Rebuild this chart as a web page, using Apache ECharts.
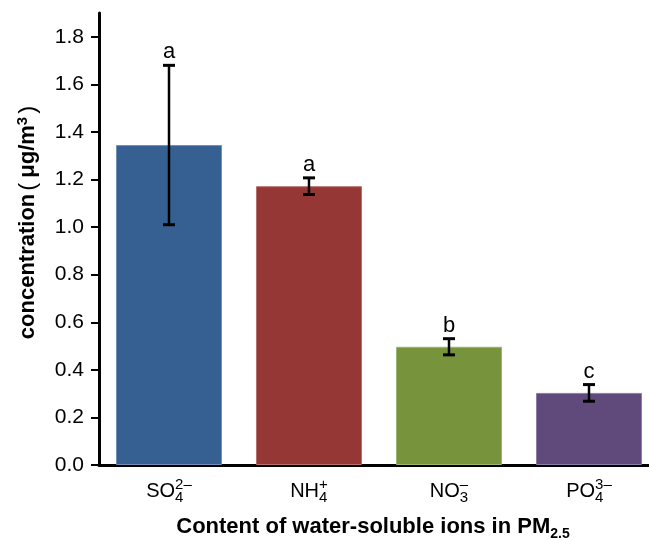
<!DOCTYPE html>
<html><head><meta charset="utf-8">
<script src="https://cdn.jsdelivr.net/npm/echarts@6/dist/echarts.min.js"></script>
<style>html,body{margin:0;padding:0;background:#fff}#c{width:649px;height:541px}</style>
</head><body><div id="c"></div>
<script>
const categories = ['SO4', 'NH4', 'NO3', 'PO4'];
const labelBase = ['SO', 'NH', 'NO', 'PO'];
const labelSub = ['4', '4', '3', '4'];
const labelSup = ['2\u2013', '+', '\u2013', '3\u2013'];
const means = [1.345, 1.172, 0.497, 0.303];
const errors = [0.335, 0.035, 0.034, 0.035];
const letters = ['a', 'a', 'b', 'c'];
const barColors = ['#376092', '#953735', '#77933C', '#604A7B'];
const barBorders = ['#6f8fb8', '#b86e6c', '#9cb46f', '#8e7ca6'];
const yTicks = [0, 0.2, 0.4, 0.6, 0.8, 1.0, 1.2, 1.4, 1.6, 1.8];

const FONT = '"Liberation Sans", "Noto Sans CJK SC", sans-serif';
const chart = echarts.init(document.getElementById('c'));
chart.setOption({
  animation: false,
  backgroundColor: '#fff',
  grid: { left: 99, right: -10, top: 13, bottom: 76, containLabel: false, outerBoundsMode: 'none' },
  xAxis: {
    type: 'category',
    data: categories,
    axisLine: { lineStyle: { color: '#000', width: 3 } },
    axisTick: { show: false },
    axisLabel: {
      margin: 12,
      interval: 0,
      formatter: (v, i) => '{m|' + labelBase[i] + '}{sub|' + labelSub[i] + '}{sup|' + labelSup[i] + '}',
      rich: {
        m: { fontSize: 20, lineHeight: 28, fontFamily: FONT, color: '#000', align: 'left' },
        sub: { fontSize: 15, lineHeight: 17, verticalAlign: 'bottom', width: 0, fontFamily: FONT, color: '#000', align: 'left' },
        sup: { fontSize: 15, lineHeight: 13, verticalAlign: 'top', fontFamily: FONT, color: '#000', align: 'left' }
      }
    },
    name: '{b|Content of water-soluble ions in PM}{s|2.5}',
    nameLocation: 'middle',
    nameGap: 48,
    nameTextStyle: {
      padding: [0, 12, 0, 0],
      rich: {
        b: { fontSize: 22, fontWeight: 'bold', fontFamily: FONT, color: '#000', lineHeight: 28 },
        s: { fontSize: 14, fontWeight: 'bold', fontFamily: FONT, color: '#000', lineHeight: 13, verticalAlign: 'bottom' }
      }
    }
  },
  yAxis: {
    type: 'value',
    min: 0,
    max: 1.9,
    splitLine: { show: false },
    axisLine: { show: true, lineStyle: { color: '#000', width: 3 } },
    axisTick: { show: true, length: 8, customValues: yTicks, lineStyle: { color: '#000', width: 2 } },
    axisLabel: {
      customValues: yTicks,
      margin: 15,
      fontSize: 21,
      fontFamily: FONT,
      color: '#000',
      formatter: v => v.toFixed(1)
    },
    name: '{b|concentration}{p|(}{b|\u03bcg/m}{s|3}{p|)}',
    nameLocation: 'middle',
    nameGap: 58,
    nameTextStyle: {
      padding: [0, 0, 0, 38],
      rich: {
        b: { fontSize: 22, fontWeight: 'bold', fontFamily: FONT, color: '#000', lineHeight: 26 },
        p: { fontSize: 24, fontWeight: 'normal', fontFamily: FONT, color: '#000', lineHeight: 26, padding: [0, 5, 0, 3] },
        s: { fontSize: 15, fontWeight: 'bold', fontFamily: FONT, color: '#000', lineHeight: 14, verticalAlign: 'top' }
      }
    }
  },
  series: [
    {
      type: 'bar',
      barWidth: 106,
      data: means.map((v, i) => ({ value: v, itemStyle: { color: barColors[i], borderColor: barBorders[i], borderWidth: 1 } }))
    },
    {
      type: 'custom',
      z: 5,
      data: means.map((m, i) => [i, m - errors[i], m + errors[i]]),
      renderItem: (params, api) => {
        const x = api.value(0);
        const lo = api.coord([x, api.value(1)]);
        const hi = api.coord([x, api.value(2)]);
        const cap = 6;
        return {
          type: 'group',
          children: [
            { type: 'line', shape: { x1: hi[0], y1: hi[1], x2: lo[0], y2: lo[1] }, style: { stroke: '#000', lineWidth: 2.5 } },
            { type: 'line', shape: { x1: hi[0] - cap, y1: hi[1], x2: hi[0] + cap, y2: hi[1] }, style: { stroke: '#000', lineWidth: 3 } },
            { type: 'line', shape: { x1: lo[0] - cap, y1: lo[1], x2: lo[0] + cap, y2: lo[1] }, style: { stroke: '#000', lineWidth: 3 } },
            { type: 'text', x: hi[0], y: hi[1] - 2, style: { text: letters[params.dataIndex], fontSize: 22, fontFamily: FONT, fill: '#000', align: 'center', verticalAlign: 'bottom' } }
          ]
        };
      }
    }
  ]
});
</script>
</body></html>
